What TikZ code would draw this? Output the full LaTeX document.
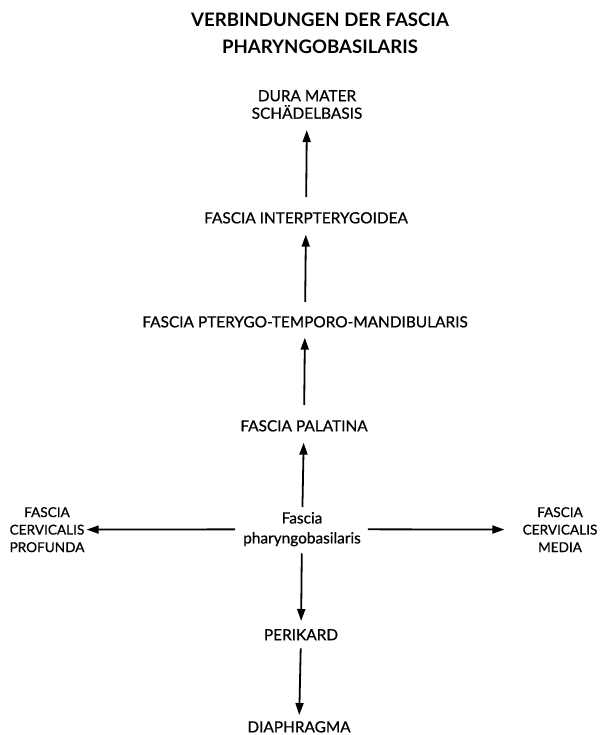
\documentclass[tikz,border=0pt]{standalone}
\usepackage{fontspec}
\setmainfont{Lato}
\newfontfamily\medfont{Lato}[FakeBold=0.7]
\usepackage{tikz}
\usetikzlibrary{arrows.meta}

\begin{document}
\begin{tikzpicture}[x=1pt, y=-1pt, >={Triangle[length=12pt, width=8pt]},
  lbl/.style={inner sep=0pt, anchor=north, align=center,
    font=\medfont\fontsize{15.4}{17.5}\selectfont},
  seite/.style={lbl, font=\medfont\fontsize{13.6}{17.5}\selectfont},
  pfeil/.style={->, line width=1.8pt, shorten <=12pt, shorten >=11pt}]
  \useasboundingbox (0,0) rectangle (599,735);
  \node[inner sep=0pt, anchor=north, align=center,
    font=\bfseries\fontsize{18.6}{27}\selectfont] (title) at (320,13)
    {VERBINDUNGEN DER FASCIA\\PHARYNGOBASILARIS};
  \node[lbl] (dura) at (307,90) {DURA MATER\\SCHÄDELBASIS};
  \node[lbl] (inter) at (306,212) {FASCIA INTERPTERYGOIDEA};
  \node[lbl] (ptm) at (305,316) {FASCIA PTERYGO-TEMPORO-MANDIBULARIS};
  \node[lbl] (palat) at (304,420) {FASCIA PALATINA};
  \node[lbl, font=\medfont\fontsize{15.4}{20}\selectfont] (fpb) at (302,512)
    {Fascia\\pharyngobasilaris};
  \node[seite] (prof) at (47,507) {FASCIA\\CERVICALIS\\PROFUNDA};
  \node[seite] (media) at (560,507) {FASCIA\\CERVICALIS\\MEDIA};
  \node[lbl] (peri) at (301,629) {PERIKARD};
  \node[lbl] (diaph) at (299,721) {DIAPHRAGMA};
  \draw[pfeil, shorten <=15pt] (inter) -- (dura);
  \draw[pfeil, shorten <=14pt] (ptm) -- (inter);
  \draw[pfeil, shorten <=15pt, shorten >=10pt] (palat) -- (ptm);
  \draw[pfeil, shorten <=5pt] (fpb) -- (palat);
  \draw[pfeil, shorten <=8pt, shorten >=2pt] (fpb) -- (prof);
  \draw[pfeil, shorten <=7pt, shorten >=18pt] (fpb) -- (media);
  \draw[pfeil, shorten <=7pt, shorten >=8pt] (fpb) -- (peri);
  \draw[pfeil, shorten <=8pt, shorten >=6pt] (peri) -- (diaph);
\end{tikzpicture}
\end{document}
